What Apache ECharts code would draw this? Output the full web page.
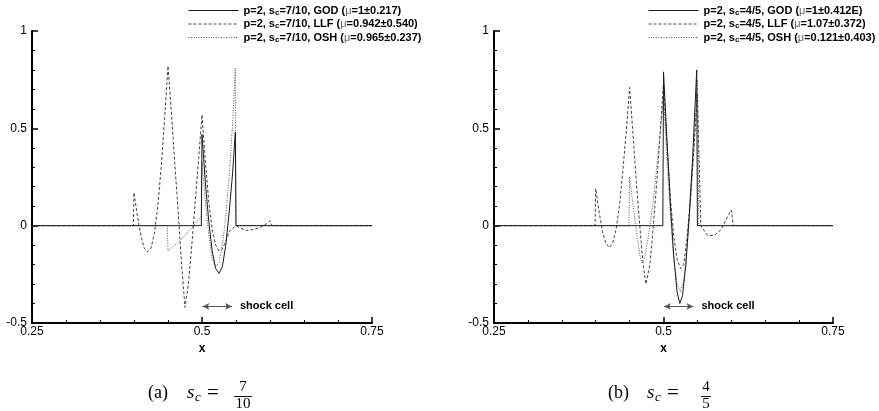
<!DOCTYPE html>
<html>
<head>
<meta charset="utf-8">
<script src="https://cdn.jsdelivr.net/npm/echarts@6/dist/echarts.min.js"></script>
<style>html,body{margin:0;padding:0;background:#fff}#c{width:879px;height:411px}</style>
</head>
<body>
<div id="c"></div>
<script>
// ---- data (x, error) ----
var leftNames = ['p=2, s_c=7/10, GOD (μ=1±0.217)', 'p=2, s_c=7/10, LLF (μ=0.942±0.540)', 'p=2, s_c=7/10, OSH (μ=0.965±0.237)'];
var rightNames = ['p=2, s_c=4/5, GOD (μ=1±0.412E)', 'p=2, s_c=4/5, LLF (μ=1.07±0.372)', 'p=2, s_c=4/5, OSH (μ=0.121±0.403)'];
var xTicks = [0.25, 0.5, 0.75];
var yTicks = [-0.5, 0, 0.5, 1];

var leftGOD = [[0.25,0],[0.499,0],[0.5,0.47],[0.505,0.22],[0.51,0.02],[0.515,-0.13],[0.52,-0.22],[0.525,-0.245],[0.53,-0.21],[0.535,-0.1],[0.54,0.07],[0.545,0.27],[0.549,0.48],[0.55,0.0],[0.75,0]];
var leftLLF = [[0.25,0],[0.399,0],[0.4,0.17],[0.405,0.05],[0.41,-0.05],[0.415,-0.115],[0.42,-0.135],[0.425,-0.115],[0.43,-0.04],[0.435,0.1],[0.44,0.3],[0.445,0.55],[0.45,0.82],[0.455,0.58],[0.46,0.32],[0.465,0.07],[0.47,-0.2],[0.475,-0.42],[0.48,-0.3],[0.485,-0.1],[0.49,0.12],[0.495,0.34],[0.5,0.57],[0.505,0.33],[0.51,0.12],[0.515,-0.02],[0.52,-0.1],[0.525,-0.13],[0.53,-0.12],[0.535,-0.08],[0.54,-0.03],[0.55,0.0],[0.555,-0.01],[0.565,-0.025],[0.575,-0.02],[0.585,-0.01],[0.595,0.01],[0.6,0.025],[0.603,0],[0.75,0]];
var leftOSH = [[0.25,0],[0.449,0],[0.45,-0.13],[0.46,-0.1],[0.47,-0.07],[0.48,-0.03],[0.49,0.01],[0.499,0.05],[0.5,0.33],[0.505,0.12],[0.51,-0.05],[0.515,-0.17],[0.52,-0.21],[0.525,-0.19],[0.53,-0.1],[0.535,0.05],[0.54,0.26],[0.545,0.52],[0.549,0.81],[0.55,0.0],[0.75,0]];

var rightGOD = [[0.25,0],[0.499,0],[0.5,0.79],[0.505,0.45],[0.51,0.12],[0.515,-0.15],[0.52,-0.34],[0.524,-0.4],[0.528,-0.36],[0.533,-0.2],[0.538,0.05],[0.543,0.35],[0.549,0.8],[0.55,0],[0.75,0]];
var rightLLF = [[0.25,0],[0.399,0],[0.4,0.19],[0.405,0.07],[0.41,-0.03],[0.415,-0.09],[0.42,-0.113],[0.425,-0.09],[0.43,-0.02],[0.435,0.1],[0.44,0.28],[0.445,0.48],[0.45,0.71],[0.455,0.47],[0.46,0.22],[0.465,0.0],[0.47,-0.2],[0.474,-0.3],[0.48,-0.2],[0.485,0.0],[0.49,0.22],[0.495,0.47],[0.5,0.73],[0.505,0.43],[0.51,0.15],[0.515,-0.05],[0.52,-0.17],[0.525,-0.22],[0.53,-0.2],[0.535,-0.05],[0.54,0.15],[0.545,0.4],[0.55,0.68],[0.555,0.0],[0.565,-0.05],[0.575,-0.05],[0.585,-0.02],[0.595,0.05],[0.6,0.08],[0.603,0],[0.75,0]];
var rightOSH = [[0.25,0],[0.449,0],[0.45,0.25],[0.455,0.11],[0.46,-0.03],[0.465,-0.15],[0.468,-0.19],[0.472,-0.17],[0.478,-0.05],[0.485,0.13],[0.49,0.3],[0.495,0.47],[0.5,0.66],[0.505,0.35],[0.51,0.06],[0.515,-0.17],[0.52,-0.3],[0.525,-0.34],[0.53,-0.28],[0.535,-0.1],[0.54,0.13],[0.545,0.42],[0.55,0.75],[0.552,0.0],[0.75,0]];

var shockCell = [0.5007, 0.5441];
var shockY = -0.415;

var SANS = '"Liberation Sans", Arial, Helvetica, sans-serif';
var SERIF = '"Liberation Serif", "Times New Roman", serif';

function fmtLegend(name) {
  return name.replace('s_c', 's{sub|c}').replace('μ', '{mu|μ}');
}

var styles = [
  {color: '#1a1a1a', width: 1, type: 'solid'},
  {color: '#444', width: 1, type: [3, 2]},
  {color: '#555', width: 1, type: [1, 1.5]}
];

function mkX(idx) {
  return {
    type: 'value', gridIndex: idx, min: 0.25, max: 0.75, interval: 0.25,
    name: 'x', nameLocation: 'middle', nameGap: 20,
    nameTextStyle: {fontFamily: SANS, fontWeight: 'bold', fontSize: 12, color: '#000'},
    axisLine: {onZero: false, lineStyle: {color: '#000', width: 2}},
    axisTick: {inside: true, length: 6, lineStyle: {color: '#000', width: 1.5}},
    minorTick: {show: true, splitNumber: 5, length: 3, lineStyle: {color: '#000', width: 1}},
    axisLabel: {fontFamily: SANS, fontSize: 12, color: '#000', margin: 3,
      formatter: function (v) { return xTicks.indexOf(+v.toFixed(3)) >= 0 ? String(v) : ''; }},
    splitLine: {show: false}
  };
}
function mkY(idx) {
  return {
    type: 'value', gridIndex: idx, min: -0.5, max: 1, interval: 0.5,
    axisLine: {show: true, onZero: false, lineStyle: {color: '#000', width: 2}},
    axisTick: {show: true, inside: true, length: 6, lineStyle: {color: '#000', width: 1.5}},
    minorTick: {show: true, splitNumber: 5, length: 3, lineStyle: {color: '#000', width: 1}},
    axisLabel: {fontFamily: SANS, fontSize: 12, color: '#000', margin: 5,
      formatter: function (v) { return yTicks.indexOf(+v.toFixed(3)) >= 0 ? String(v) : ''; }},
    splitLine: {show: false}
  };
}

function mkSeries(name, data, k, idx, withArrow) {
  var s = {
    name: name, type: 'line', xAxisIndex: idx, yAxisIndex: idx, data: data,
    symbol: 'none', showSymbol: false, smooth: false,
    lineStyle: styles[k], itemStyle: {color: styles[k].color},
    emphasis: {disabled: true}, z: 3 - k
  };
  if (withArrow) {
    s.markLine = {
      silent: true, symbol: ['arrow', 'arrow'], symbolSize: [5, 7],
      lineStyle: {color: '#555', width: 1, type: 'solid'},
      label: {show: true, position: 'end', formatter: 'shock cell', distance: 8,
        fontFamily: SANS, fontWeight: 'bold', fontSize: 11, color: '#000'},
      data: [[{coord: [shockCell[0], shockY]}, {coord: [shockCell[1], shockY]}]]
    };
  }
  return s;
}

var rich = {
  sub: {fontSize: 8, fontWeight: 'bold', fontFamily: SANS, verticalAlign: 'bottom', padding: [4, 0, 0, 0], color: '#000'},
  mu: {fontSize: 11, fontWeight: 'normal', fontFamily: SANS, color: '#666'}
};

function legendOf(names, left) {
  return {
    data: names, left: left, top: 0, orient: 'vertical',
    itemWidth: 50, itemHeight: 12, itemGap: 2,
    itemStyle: {opacity: 0, borderWidth: 0},
    lineStyle: {width: 1},
    formatter: fmtLegend,
    textStyle: {fontFamily: SANS, fontWeight: 'bold', fontSize: 11, color: '#000', rich: rich},
    selectedMode: false
  };
}

function caption(x0, label) {
  var cy = 393;
  return [
    {type: 'text', x: x0, y: cy, style: {text: label, font: '18px ' + SERIF, fill: '#000', align: 'left', verticalAlign: 'middle'}},
    {type: 'text', x: x0 + 39, y: cy, style: {text: 's', font: 'italic 19px ' + SERIF, fill: '#000', align: 'left', verticalAlign: 'middle'}},
    {type: 'text', x: x0 + 47, y: cy + 5, style: {text: 'c', font: 'italic 13px ' + SERIF, fill: '#000', align: 'left', verticalAlign: 'middle'}},
    {type: 'text', x: x0 + 59, y: cy, style: {text: '=', font: '21px ' + SERIF, fill: '#000', align: 'left', verticalAlign: 'middle'}}
  ];
}
function fraction(cx, num, den) {
  var hw = den.length > 1 ? 9 : 5;
  return [
    {type: 'text', x: cx, y: 387, style: {text: num, font: '15px ' + SERIF, fill: '#000', align: 'center', verticalAlign: 'middle'}},
    {type: 'line', shape: {x1: cx - hw, y1: 396.5, x2: cx + hw, y2: 396.5}, style: {stroke: '#000', lineWidth: 0.9}},
    {type: 'text', x: cx, y: 404.5, style: {text: den, font: '15px ' + SERIF, fill: '#000', align: 'center', verticalAlign: 'middle'}}
  ];
}

var option = {
  animation: false,
  backgroundColor: '#fff',
  grid: [
    {left: 32, top: 31, right: 507, bottom: 88},
    {left: 494, top: 31, right: 46, bottom: 88}
  ],
  xAxis: [mkX(0), mkX(1)],
  yAxis: [mkY(0), mkY(1)],
  legend: [legendOf(leftNames, 183), legendOf(rightNames, 643)],
  series: [
    mkSeries(leftNames[0], leftGOD, 0, 0, true),
    mkSeries(leftNames[1], leftLLF, 1, 0, false),
    mkSeries(leftNames[2], leftOSH, 2, 0, false),
    mkSeries(rightNames[0], rightGOD, 0, 1, true),
    mkSeries(rightNames[1], rightLLF, 1, 1, false),
    mkSeries(rightNames[2], rightOSH, 2, 1, false)
  ],
  graphic: [].concat(
    caption(148, '(a)'), fraction(243, '7', '10'),
    caption(608, '(b)'), fraction(706, '4', '5')
  )
};

var chart = echarts.init(document.getElementById('c'), null, {renderer: 'canvas'});
chart.setOption(option);
</script>
</body>
</html>
